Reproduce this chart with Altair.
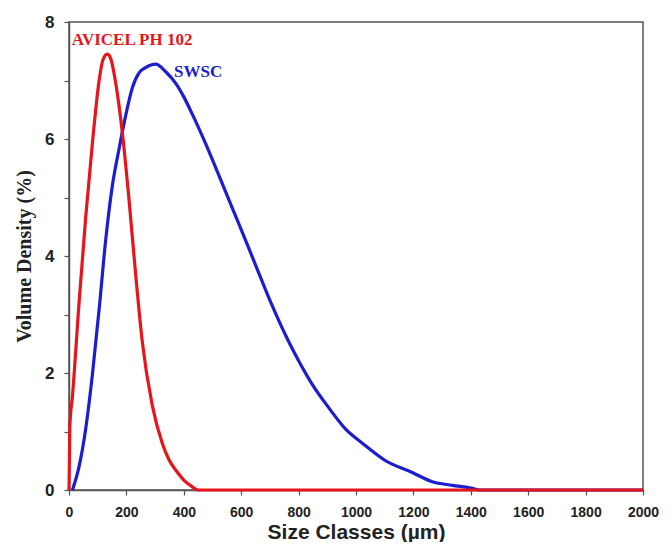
import altair as alt
import pandas as pd

# AVICEL PH 102 (red)
avicel_x = [0, 3, 12, 35, 58, 81, 105, 118, 133, 145, 163, 186, 209, 232, 255, 290, 325, 348, 375, 400, 425, 450, 2000]
avicel_y = [0, 1.1, 1.6, 3.2, 4.65, 5.9, 7.0, 7.35, 7.45, 7.38, 6.95, 6.1, 4.97, 3.7, 2.55, 1.45, 0.8, 0.52, 0.32, 0.17, 0.07, 0.0, 0.0]

# SWSC (blue)
swsc_x = [12, 35, 58, 81, 105, 128, 151, 174, 197, 221, 244, 267, 302, 337, 372, 400, 430, 476, 523, 569, 616, 662, 708, 767, 801, 848, 906, 964, 1022, 1103, 1196, 1266, 1336, 1405, 1430, 2000]
swsc_y = [0, 0.4, 1.04, 1.95, 3.09, 4.28, 5.2, 5.82, 6.39, 6.88, 7.13, 7.22, 7.28, 7.15, 6.95, 6.72, 6.42, 5.92, 5.37, 4.82, 4.26, 3.7, 3.15, 2.52, 2.2, 1.8, 1.4, 1.04, 0.8, 0.5, 0.3, 0.14, 0.08, 0.03, 0.0, 0.0]

# Annotations
label_text = ["AVICEL PH 102", "SWSC"]
label_x = [10, 366]
label_y = [7.69, 7.14]
label_color = ["#E8141C", "#1C1CD0"]

x_ticks = list(range(0, 2001, 100))
y_ticks = list(range(0, 9, 1))

red_df = pd.DataFrame({"x": avicel_x, "y": avicel_y})
blue_df = pd.DataFrame({"x": swsc_x, "y": swsc_y})
lab_df = pd.DataFrame({"t": label_text, "x": label_x, "y": label_y, "c": label_color})

xs = alt.Scale(domain=[0, 2000], nice=False, zero=False)
ys = alt.Scale(domain=[0, 8], nice=False, zero=False)

xenc = alt.X("x:Q", scale=xs, axis=alt.Axis(
    values=x_ticks, format="d",
    labelExpr="datum.value % 200 == 0 ? datum.label : ''",
    title="Size Classes (µm)", grid=False,
    tickSize=5, tickColor="#555", domainColor="#555", domainWidth=1.5, tickWidth=1.2,
    labelFont="Liberation Sans", labelFontWeight="bold", labelFontSize=14, labelColor="#222",
    labelPadding=10, labelFlush=False,
    titleFont="Liberation Sans", titleFontWeight="bold", titleFontSize=21, titleColor="#222",
    titlePadding=2,
))
yenc = alt.Y("y:Q", scale=ys, axis=alt.Axis(
    values=y_ticks, format="d",
    labelExpr="datum.value % 2 == 0 ? datum.label : ''",
    title="Volume Density (%)", grid=False,
    tickSize=5, tickColor="#555", domainColor="#555", domainWidth=1.5, tickWidth=1.2,
    labelFont="Liberation Sans", labelFontWeight="bold", labelFontSize=17, labelColor="#222",
    labelPadding=10, labelFlush=False,
    titleFont="Liberation Serif", titleFontWeight="bold", titleFontSize=20, titleColor="#222",
    titlePadding=10,
))

blue = alt.Chart(blue_df).mark_line(color="#1C1CD0", strokeWidth=3.2, interpolate="monotone").encode(x=xenc, y=yenc)
red = alt.Chart(red_df).mark_line(color="#E8141C", strokeWidth=3.2, interpolate="monotone").encode(x="x:Q", y="y:Q")
labels = alt.Chart(lab_df).mark_text(
    align="left", baseline="middle", font="Liberation Serif", fontWeight="bold", fontSize=17
).encode(x="x:Q", y="y:Q", text="t:N", color=alt.Color("c:N", scale=None))

chart = alt.layer(blue, red, labels).properties(
    width=574, height=468,
    autosize=alt.AutoSizeParams(type="none"),
    padding={"left": 61, "top": 14, "right": 16, "bottom": 52},
).configure_view(stroke="#555", strokeWidth=1.5)

chart.save("out.html", embed_options={"renderer": "svg", "actions": False})
